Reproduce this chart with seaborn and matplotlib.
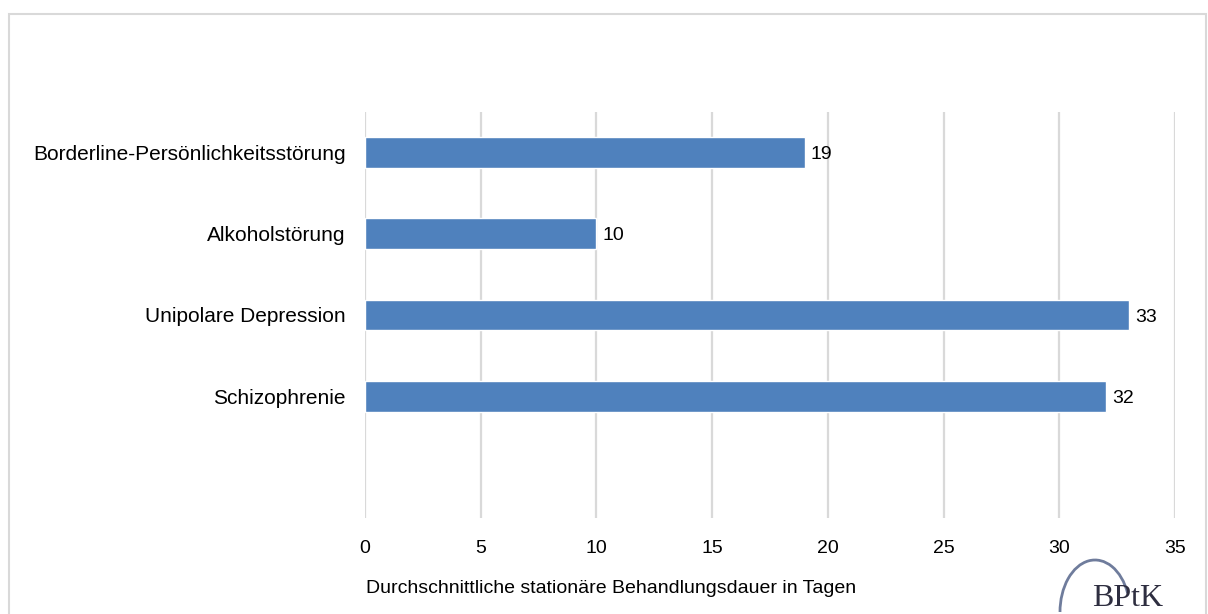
import matplotlib
matplotlib.use("Agg")
import matplotlib.pyplot as plt
import seaborn as sns
import pandas as pd
from matplotlib.patches import Rectangle, Arc

# Daten
kategorien = ["Borderline-Persönlichkeitsstörung", "Alkoholstörung",
              "Unipolare Depression", "Schizophrenie"]
tage = [19, 10, 33, 32]
x_ticks = [0, 5, 10, 15, 20, 25, 30, 35]
x_titel = "Durchschnittliche stationäre Behandlungsdauer in Tagen"

sns.set_style("white")
plt.rcParams['font.family'] = ['Liberation Sans', 'DejaVu Sans']
plt.rcParams['text.color'] = 'black'
plt.rcParams['xtick.color'] = 'black'
plt.rcParams['ytick.color'] = 'black'
plt.rcParams['axes.labelcolor'] = 'black'

df = pd.DataFrame({"kategorie": kategorien, "tage": tage})

W, H = 1208, 614
fig = plt.figure(figsize=(W / 100, H / 100), dpi=100)
ax = fig.add_axes([365 / W, 1 - 518 / H, 810 / W, 406 / H])

sns.barplot(data=df, x="tage", y="kategorie", color="#4F81BD",
            width=0.38, saturation=1, ax=ax, zorder=3)

ax.set_xlim(0, 35)
ax.set_ylim(4.5, -0.5)
ax.set_xticks(x_ticks)
ax.set_xticklabels([str(t) for t in x_ticks])
ax.xaxis.grid(True, color="#d9d9d9", linewidth=1.6, zorder=0)
ax.yaxis.grid(False)
for s in ax.spines.values():
    s.set_visible(False)
ax.tick_params(axis="x", length=0, pad=15.5, labelsize=14)
ax.tick_params(axis="y", length=0, pad=14, labelsize=15)
ax.set_ylabel("")
ax.set_xlabel(x_titel, fontsize=14, labelpad=17, x=0.304)

for i, v in enumerate(tage):
    ax.annotate(str(v), (v, i), xytext=(4.5, -1.5), textcoords="offset points",
                va="center", ha="left", fontsize=14)

# Rahmen
fig.patches.append(Rectangle((9 / W, -0.02), 1197 / W, 1 - 14 / H + 0.02,
                             transform=fig.transFigure, fill=False,
                             edgecolor="#d9d9d9", linewidth=1.5))

# Logo
fig.text(1128 / W, 1 - 598 / H, "BPtK", family=["Liberation Serif", "DejaVu Serif"],
         fontsize=23, color="#2e2e40", ha="center", va="center")
logo = fig.add_axes([0, 0, 1, 1], zorder=-1)
logo.set_xlim(0, W)
logo.set_ylim(0, H)
logo.axis("off")
logo.add_patch(Arc((1095, 2), 70, 104, theta1=30, theta2=180,
                   color="#6f7c9c", linewidth=2))

fig.savefig("out.png", dpi=100)
